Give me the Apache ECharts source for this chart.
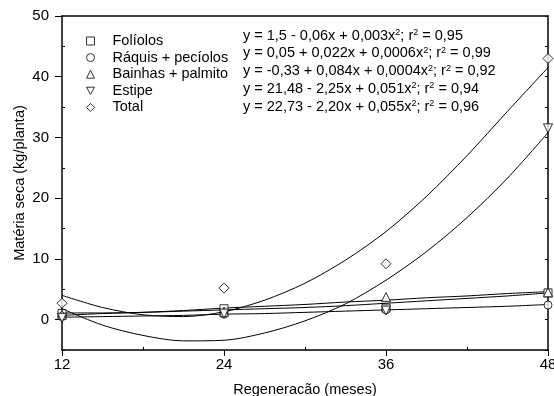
<!DOCTYPE html>
<html>
<head>
<meta charset="utf-8">
<script src="https://cdn.jsdelivr.net/npm/echarts@6/dist/echarts.min.js"></script>
<style>html,body{margin:0;padding:0;background:#fff;}#c{width:554px;height:396px;}</style>
</head>
<body>
<div id="c"></div>
<script>
// Observed data
var months = [12, 24, 36, 48];
var foliolos = [1.0, 1.8, 1.9, 4.4];
var raquis = [0.5, 0.9, 1.6, 2.4];
var bainhas = [0.8, 1.3, 3.7, 4.5];
var estipe = [0.3, 1.0, 1.5, 31.5];
var total = [2.7, 5.2, 9.2, 43.0];

// Fitted curves
var curveX = [12, 15, 18, 21, 24, 27, 30, 33, 36, 39, 42, 45, 48];
var fitFoliolos = [1.1, 1.1, 1.2, 1.4, 1.6, 1.8, 2.0, 2.3, 2.7, 3.1, 3.5, 3.9, 4.4];
var fitRaquis = [0.4, 0.5, 0.6, 0.7, 0.9, 1.0, 1.2, 1.4, 1.6, 1.8, 2.0, 2.2, 2.5];
var fitBainhas = [0.7, 1.0, 1.2, 1.5, 1.9, 2.2, 2.5, 2.9, 3.2, 3.6, 3.9, 4.3, 4.6];
var fitEstipe = [1.8, -0.9, -2.6, -3.5, -3.4, -2.2, -0.2, 2.6, 6.5, 11.2, 16.8, 23.3, 30.8];
var fitTotal = [4.0, 2.0, 0.8, 0.5, 1.3, 3.2, 6.0, 9.8, 14.5, 20.3, 27.0, 34.3, 41.5];

var seriesNames = ['Folíolos', 'Ráquis + pecíolos', 'Bainhas + palmito', 'Estipe', 'Total'];
var equations = [
  'y = 1,5 - 0,06x + 0,003x{s|2}; r{s|2} = 0,95',
  'y = 0,05 + 0,022x + 0,0006x{s|2}; r{s|2} = 0,99',
  'y = -0,33 + 0,084x + 0,0004x{s|2}; r{s|2} = 0,92',
  'y = 21,48 - 2,25x + 0,051x{s|2}; r{s|2} = 0,94',
  'y = 22,73 - 2,20x + 0,055x{s|2}; r{s|2} = 0,96'
];
var yLabelValues = [0, 10, 20, 30, 40, 50];
var yMinorValues = [-5, 5, 15, 25, 35, 45];
var xMinorValues = [18, 30, 42];

var FONT = '"Liberation Sans", Arial, sans-serif';
var symbols = ['rect', 'circle', 'triangle', 'path://M0,0 L10,0 L5,9 Z', 'diamond'];
var symbolSizes = [8, 8, 9, 9, 10];
var obs = [foliolos, raquis, bainhas, estipe, total];
var fits = [fitFoliolos, fitRaquis, fitBainhas, fitEstipe, fitTotal];

function pairs(xs, ys) { return xs.map(function (x, i) { return [x, ys[i]]; }); }

var series = [];
fits.forEach(function (f, i) {
  series.push({
    type: 'line', name: 'fit' + i, data: pairs(curveX, f), smooth: 0.3,
    showSymbol: false, silent: true, z: 2,
    lineStyle: { color: '#000', width: 1 }
  });
});
obs.forEach(function (o, i) {
  series.push({
    type: 'scatter', name: seriesNames[i], data: pairs(months, o),
    symbol: symbols[i], symbolSize: symbolSizes[i], z: 5,
    itemStyle: { color: '#fff', borderColor: '#000', borderWidth: 1 }
  });
});

var graphics = equations.map(function (e, i) {
  return {
    type: 'text', left: 243, top: 28 + i * 17.8,
    style: {
      text: e, font: '14.5px ' + FONT, fill: '#000',
      rich: { s: { fontSize: 9, verticalAlign: 'top', lineHeight: 10, padding: [0, 0, 6, 0] } }
    }
  };
});

var chart = echarts.init(document.getElementById('c'));
chart.setOption({
  animation: false,
  backgroundColor: '#fff',
  grid: { left: 62, right: 6, top: 16, bottom: 46, containLabel: false, outerBoundsMode: 'none' },
  legend: {
    data: seriesNames.map(function (n) { return { name: n, itemStyle: { borderWidth: 1 } }; }),
    orient: 'vertical', left: 86, top: 33.5, padding: 0,
    itemWidth: 8, itemHeight: 8, itemGap: 1.6,
    textStyle: { fontFamily: FONT, fontSize: 14.5, lineHeight: 14, color: '#000', padding: [0, 0, 0, 13] }
  },
  xAxis: [{
    type: 'value', min: 12, max: 48, interval: 12,
    name: 'Regeneracão (meses)', nameLocation: 'middle', nameGap: 32, nameMoveOverlap: false,
    nameTextStyle: { fontFamily: FONT, fontSize: 14.5, color: '#000' },
    axisLine: { onZero: false, lineStyle: { color: '#000', width: 1.5 } },
    axisTick: { length: 6, lineStyle: { color: '#000' } },
    axisLabel: { fontFamily: FONT, fontSize: 15, color: '#000', margin: 7 },
    splitLine: { show: false }
  }, {
    type: 'value', min: 12, max: 48, position: 'bottom',
    axisLine: { show: false, onZero: false },
    axisTick: { inside: true, length: 3, customValues: xMinorValues, lineStyle: { color: '#000' } },
    axisLabel: { show: false }, splitLine: { show: false }
  }, {
    type: 'value', min: 12, max: 48, position: 'top',
    axisLine: { onZero: false, lineStyle: { color: '#000', width: 1.5 } },
    axisTick: { show: false }, axisLabel: { show: false }, splitLine: { show: false }
  }],
  yAxis: [{
    type: 'value', min: -5, max: 50, interval: 5,
    name: 'Matéria seca (kg/planta)', nameLocation: 'middle', nameGap: 34.5, nameMoveOverlap: false,
    nameTextStyle: { fontFamily: FONT, fontSize: 14.5, color: '#000' },
    axisLine: { onZero: false, lineStyle: { color: '#000', width: 1.5 } },
    axisTick: { length: 7, customValues: yLabelValues, lineStyle: { color: '#000' } },
    axisLabel: { customValues: yLabelValues, fontFamily: FONT, fontSize: 15, color: '#000', margin: 13 },
    splitLine: { show: false }
  }, {
    type: 'value', min: -5, max: 50, interval: 5, position: 'left',
    axisLine: { show: false, onZero: false },
    axisTick: { inside: true, length: 3, customValues: yMinorValues, lineStyle: { color: '#000' } },
    axisLabel: { show: false }, splitLine: { show: false }
  }, {
    type: 'value', min: -5, max: 50, interval: 5, position: 'right',
    axisLine: { show: true, onZero: false, lineStyle: { color: '#000', width: 1.5 } },
    axisTick: { inside: true, length: 3, lineStyle: { color: '#000' } },
    axisLabel: { show: false }, splitLine: { show: false }
  }],
  series: series,
  graphic: graphics
});
</script>
</body>
</html>
